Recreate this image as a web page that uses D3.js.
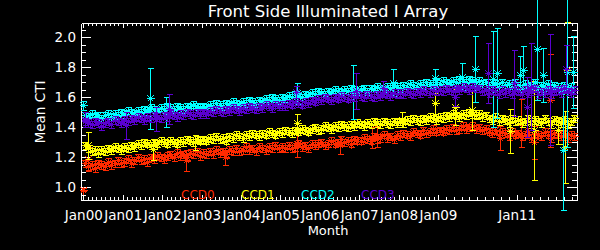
<!DOCTYPE html>
<html>
<head>
<meta charset="utf-8">
<script src="https://cdn.jsdelivr.net/npm/d3@7"></script>
<style>
html, body { margin: 0; padding: 0; background: #000; }
svg { display: block; }
</style>
</head>
<body>
<script>
// monthly mean CTI per CCD, Jan 2000 .. Jun 2012
var months = d3.timeMonth.range(new Date(2000, 0, 1), new Date(2012, 6, 1));

var ccd0 = [
  1.16,1.14,1.15,1.13,1.16,1.15,1.14,1.17,1.15,1.16,1.18,1.16,
  1.17,1.19,1.16,1.18,1.20,1.18,1.19,1.17,1.20,1.19,1.21,1.20,
  1.19,1.21,1.22,1.20,1.23,1.21,1.22,1.20,1.23,1.22,1.24,1.21,
  1.23,1.22,1.24,1.22,1.25,1.23,1.24,1.22,1.25,1.24,1.26,1.24,
  1.25,1.27,1.25,1.26,1.24,1.27,1.26,1.25,1.27,1.26,1.28,1.26,
  1.27,1.26,1.28,1.26,1.27,1.29,1.27,1.28,1.26,1.29,1.28,1.29,
  1.30,1.28,1.29,1.31,1.29,1.30,1.32,1.30,1.31,1.29,1.32,1.31,
  1.31,1.33,1.32,1.31,1.34,1.32,1.33,1.35,1.33,1.34,1.32,1.35,
  1.34,1.36,1.35,1.34,1.37,1.36,1.35,1.38,1.36,1.37,1.39,1.37,
  1.38,1.37,1.39,1.38,1.40,1.38,1.39,1.41,1.39,1.40,1.41,1.39,
  1.40,1.38,1.39,1.37,1.36,1.38,1.35,1.37,1.36,1.34,1.37,1.35,
  1.36,1.34,1.35,1.37,1.33,1.36,1.35,1.34,1.37,1.35,1.33,1.36,
  1.35,1.34,1.36,1.33,1.35,1.34
];
var ccd1 = [
  1.28,1.26,1.24,1.25,1.23,1.25,1.24,1.26,1.25,1.27,1.26,1.25,
  1.27,1.26,1.28,1.27,1.29,1.28,1.30,1.29,1.28,1.30,1.29,1.31,
  1.30,1.29,1.31,1.30,1.29,1.31,1.30,1.32,1.31,1.30,1.32,1.31,
  1.32,1.31,1.33,1.32,1.34,1.32,1.33,1.31,1.34,1.33,1.35,1.34,
  1.33,1.35,1.34,1.36,1.35,1.34,1.36,1.35,1.37,1.36,1.35,1.37,
  1.36,1.38,1.37,1.36,1.38,1.37,1.39,1.38,1.37,1.39,1.40,1.38,
  1.39,1.41,1.40,1.39,1.41,1.40,1.42,1.41,1.40,1.42,1.41,1.43,
  1.42,1.41,1.43,1.42,1.44,1.43,1.42,1.44,1.43,1.42,1.44,1.43,
  1.44,1.43,1.45,1.44,1.46,1.45,1.44,1.46,1.45,1.47,1.46,1.45,
  1.47,1.46,1.48,1.47,1.49,1.48,1.47,1.49,1.48,1.50,1.49,1.48,
  1.49,1.47,1.48,1.46,1.45,1.47,1.44,1.46,1.45,1.43,1.46,1.44,
  1.45,1.43,1.44,1.46,1.42,1.45,1.44,1.43,1.46,1.44,1.42,1.45,
  1.44,1.43,1.45,1.42,1.44,1.46
];
var ccd2 = [
  1.48,1.47,1.49,1.47,1.48,1.46,1.48,1.49,1.47,1.49,1.48,1.50,
  1.49,1.51,1.50,1.49,1.51,1.50,1.52,1.51,1.53,1.52,1.51,1.53,
  1.52,1.54,1.53,1.52,1.54,1.53,1.52,1.54,1.53,1.55,1.54,1.53,
  1.54,1.53,1.55,1.54,1.56,1.55,1.54,1.56,1.55,1.57,1.56,1.55,
  1.57,1.56,1.58,1.57,1.56,1.58,1.57,1.59,1.58,1.60,1.59,1.58,
  1.60,1.59,1.61,1.60,1.62,1.61,1.60,1.62,1.61,1.63,1.62,1.64,
  1.63,1.62,1.64,1.63,1.65,1.64,1.63,1.65,1.64,1.66,1.65,1.64,
  1.65,1.66,1.64,1.66,1.65,1.67,1.66,1.65,1.67,1.66,1.68,1.67,
  1.66,1.68,1.67,1.69,1.68,1.67,1.69,1.68,1.70,1.69,1.68,1.70,
  1.69,1.71,1.70,1.69,1.71,1.70,1.72,1.71,1.70,1.72,1.71,1.70,
  1.71,1.69,1.70,1.68,1.70,1.69,1.67,1.70,1.68,1.69,1.67,1.70,
  1.68,1.66,1.69,1.67,1.68,1.70,1.66,1.68,1.67,1.69,1.66,1.68,
  1.67,1.65,1.68,1.66,1.67,1.65
];
var ccd3 = [
  1.44,1.43,1.42,1.44,1.43,1.41,1.43,1.44,1.42,1.45,1.44,1.43,
  1.45,1.44,1.46,1.45,1.47,1.46,1.45,1.47,1.46,1.48,1.47,1.46,
  1.48,1.47,1.49,1.48,1.47,1.49,1.48,1.50,1.49,1.48,1.50,1.49,
  1.50,1.49,1.51,1.50,1.52,1.51,1.50,1.52,1.51,1.53,1.52,1.51,
  1.53,1.52,1.54,1.53,1.52,1.54,1.53,1.55,1.54,1.53,1.55,1.54,
  1.55,1.54,1.56,1.55,1.57,1.56,1.55,1.57,1.56,1.58,1.57,1.59,
  1.58,1.60,1.59,1.58,1.60,1.59,1.61,1.60,1.59,1.61,1.60,1.62,
  1.61,1.60,1.62,1.61,1.60,1.62,1.61,1.63,1.62,1.61,1.63,1.62,
  1.63,1.62,1.64,1.63,1.62,1.64,1.63,1.65,1.64,1.63,1.65,1.64,
  1.65,1.64,1.66,1.65,1.64,1.66,1.65,1.67,1.66,1.65,1.67,1.66,
  1.66,1.64,1.65,1.63,1.65,1.64,1.62,1.65,1.63,1.64,1.62,1.65,
  1.64,1.62,1.65,1.63,1.64,1.66,1.62,1.64,1.63,1.65,1.62,1.64,
  1.65,1.63,1.66,1.64,1.63,1.65
];
// typical error of a monthly mean
var bandErr = [0.025, 0.025, 0.025, 0.025];

// single measurements with large errors: [year, cti, err]
var ccd0Wide = [[2000.0,0.985,0.01],[2000.12,1.19,0.08],[2002.6,1.18,0.07],[2003.6,1.20,0.05],
  [2005.42,1.29,0.085],[2006.51,1.28,0.06],[2007.32,1.33,0.07],[2007.45,1.34,0.07],
  [2010.57,1.33,0.08],[2011.1,1.43,0.16],[2011.44,1.30,0.11],[2011.84,1.58,0.31]];
var ccd1Wide = [[2000.12,1.28,0.09],[2001.77,1.255,0.07],[2002.83,1.30,0.05],[2005.42,1.426,0.06],
  [2008.09,1.45,0.05],[2008.92,1.56,0.07],[2009.43,1.537,0.12],[2009.86,1.515,0.13],
  [2010.83,1.375,0.145],[2011.44,1.38,0.33],[2012.04,1.38,0.09],[2012.22,1.27,0.24],[2012.27,1.78,0.32]];
var ccd2Wide = [[2000.0,1.548,0.03],[2001.69,1.593,0.205],[2002.1,1.50,0.1],[2005.42,1.628,0.07],
  [2006.84,1.637,0.18],[2007.86,1.697,0.09],[2008.92,1.726,0.06],[2009.6,1.737,0.09],
  [2009.94,1.786,0.22],[2010.4,1.72,0.32],[2010.5,1.764,0.3],[2011.08,1.748,0.13],
  [2011.16,1.78,0.16],[2011.51,1.92,0.34],[2011.66,1.748,0.18],[2012.17,1.248,0.4],
  [2012.27,1.77,0.5],[2012.43,1.77,0.24]];
var ccd3Wide = [[2000.04,1.45,0.05],[2001.09,1.415,0.09],[2001.85,1.455,0.08],[2002.17,1.52,0.1],
  [2005.4,1.632,0.04],[2006.92,1.64,0.12],[2007.6,1.66,0.05],[2009.43,1.604,0.065],
  [2010.27,1.76,0.2],[2010.93,1.695,0.22],[2011.26,1.537,0.2],[2011.35,1.67,0.29],
  [2011.84,1.65,0.37],[2012.25,1.79,0.16]];

var seriesNames = ["CCD0", "CCD1", "CCD2", "CCD3"];
var yearTicks = [2000, 2001, 2002, 2003, 2004, 2005, 2006, 2007, 2008, 2009, 2011];
var yearLabels = ["Jan00", "Jan01", "Jan02", "Jan03", "Jan04", "Jan05", "Jan06", "Jan07", "Jan08", "Jan09", "Jan11"];
var ctiTicks = [1.0, 1.2, 1.4, 1.6, 1.8, 2.0];

var colors = ["#ff2a00", "#ffff00", "#00ffff", "#5a00d0"];
var font = "'DejaVu Sans', sans-serif";

var svg = d3.select("body").append("svg")
    .attr("width", 600)
    .attr("height", 250);
svg.append("rect").attr("width", 600).attr("height", 250).attr("fill", "#000");

var x = d3.scaleLinear().domain([1999.94, 2012.53]).range([81, 577]);
var y = d3.scaleLinear().domain([0.915, 2.095]).range([200, 23]);

var decYear = function(d) { return d.getFullYear() + (d.getMonth() + 0.5) / 12; };

// minor ticks: 9 per year up to Jan09, then every 0.2 yr
var xMinor = [];
d3.range(2000, 2009).forEach(function(yr) {
  d3.range(1, 9).forEach(function(k) { xMinor.push(yr + k / 9); });
});
d3.range(1, 10).forEach(function(k) { xMinor.push(2009 + k * 0.2); });
d3.range(1, 8).forEach(function(k) { xMinor.push(2011 + k * 0.2); });
var yMinor = d3.range(19, 42).map(function(k) { return k * 0.05; })
    .filter(function(v) { return Math.round(v * 100) % 20 !== 0; });

var styleAxis = function(g) {
  g.attr("color", "#fff").attr("font-family", font).attr("font-size", 13.5);
  g.selectAll("text").attr("fill", "#fff");
  g.select(".domain").attr("shape-rendering", "crispEdges");
  g.selectAll(".tick line").attr("shape-rendering", "crispEdges");
};

// bottom
svg.append("g").attr("transform", "translate(0,200)")
    .call(d3.axisBottom(x).tickValues(yearTicks).tickSize(-5).tickSizeOuter(0).tickPadding(10)
      .tickFormat(function(d, i) { return yearLabels[i]; }))
    .call(styleAxis);
svg.append("g").attr("transform", "translate(0,200)")
    .call(d3.axisBottom(x).tickValues(xMinor).tickSize(-3).tickSizeOuter(0).tickFormat(""))
    .call(styleAxis);
// top
svg.append("g").attr("transform", "translate(0,23)")
    .call(d3.axisTop(x).tickValues(yearTicks).tickSize(-5).tickSizeOuter(0).tickFormat(""))
    .call(styleAxis);
svg.append("g").attr("transform", "translate(0,23)")
    .call(d3.axisTop(x).tickValues(xMinor).tickSize(-3).tickSizeOuter(0).tickFormat(""))
    .call(styleAxis);
// left
svg.append("g").attr("transform", "translate(81,0)")
    .call(d3.axisLeft(y).tickValues(ctiTicks).tickSize(-10).tickSizeOuter(0).tickPadding(5)
      .tickFormat(d3.format(".1f")))
    .call(styleAxis);
svg.append("g").attr("transform", "translate(81,0)")
    .call(d3.axisLeft(y).tickValues(yMinor).tickSize(-5).tickSizeOuter(0).tickFormat(""))
    .call(styleAxis);
// right
svg.append("g").attr("transform", "translate(577,0)")
    .call(d3.axisRight(y).tickValues(ctiTicks).tickSize(-10).tickSizeOuter(0).tickFormat(""))
    .call(styleAxis);
svg.append("g").attr("transform", "translate(577,0)")
    .call(d3.axisRight(y).tickValues(yMinor).tickSize(-5).tickSizeOuter(0).tickFormat(""))
    .call(styleAxis);

// data
var star = "M-4,0H4M0,-4V4M-3,-3L3,3M-3,3L3,-3";
var px = function(v) { return Math.round(v) + 0.5; };

var monthly = [ccd0, ccd1, ccd2, ccd3];
var wide = [ccd0Wide, ccd1Wide, ccd2Wide, ccd3Wide];

monthly.forEach(function(vals, s) {
  var pts = vals.map(function(v, i) { return [decYear(months[i]), v, bandErr[s]]; })
      .concat(wide[s]);
  var g = svg.append("g")
      .attr("stroke", colors[s])
      .attr("fill", "none")
      .attr("shape-rendering", "crispEdges");

  g.selectAll("path.err").data(pts).enter().append("path")
      .attr("class", "err")
      .attr("d", function(d) {
        var cx = px(x(d[0])), y0 = px(y(d[1] - d[2])), y1 = px(y(d[1] + d[2]));
        return "M" + cx + "," + y0 + "V" + y1 +
               "M" + (cx - 3) + "," + y0 + "H" + (cx + 3) +
               "M" + (cx - 3) + "," + y1 + "H" + (cx + 3);
      });

  g.selectAll("path.sym").data(pts).enter().append("path")
      .attr("class", "sym")
      .attr("transform", function(d) { return "translate(" + px(x(d[0])) + "," + px(y(d[1])) + ")"; })
      .attr("d", star);
});

// legend
svg.append("g").selectAll("text").data(seriesNames).enter().append("text")
    .attr("x", function(d, i) { return 181 + i * 60; })
    .attr("y", 199)
    .attr("fill", function(d, i) { return colors[i]; })
    .attr("font-family", font)
    .attr("font-size", 12)
    .text(function(d) { return d; });

// titles
svg.append("text")
    .attr("x", 328).attr("y", 17)
    .attr("text-anchor", "middle")
    .attr("fill", "#fff").attr("font-family", font).attr("font-size", 16.5)
    .text("Front Side Illuminated I Array");

svg.append("text")
    .attr("transform", "translate(45,112) rotate(-90)")
    .attr("text-anchor", "middle")
    .attr("fill", "#fff").attr("font-family", font).attr("font-size", 13.5)
    .text("Mean CTI");

svg.append("text")
    .attr("x", 328).attr("y", 235)
    .attr("text-anchor", "middle")
    .attr("fill", "#fff").attr("font-family", font).attr("font-size", 13)
    .text("Month");
</script>
</body>
</html>
